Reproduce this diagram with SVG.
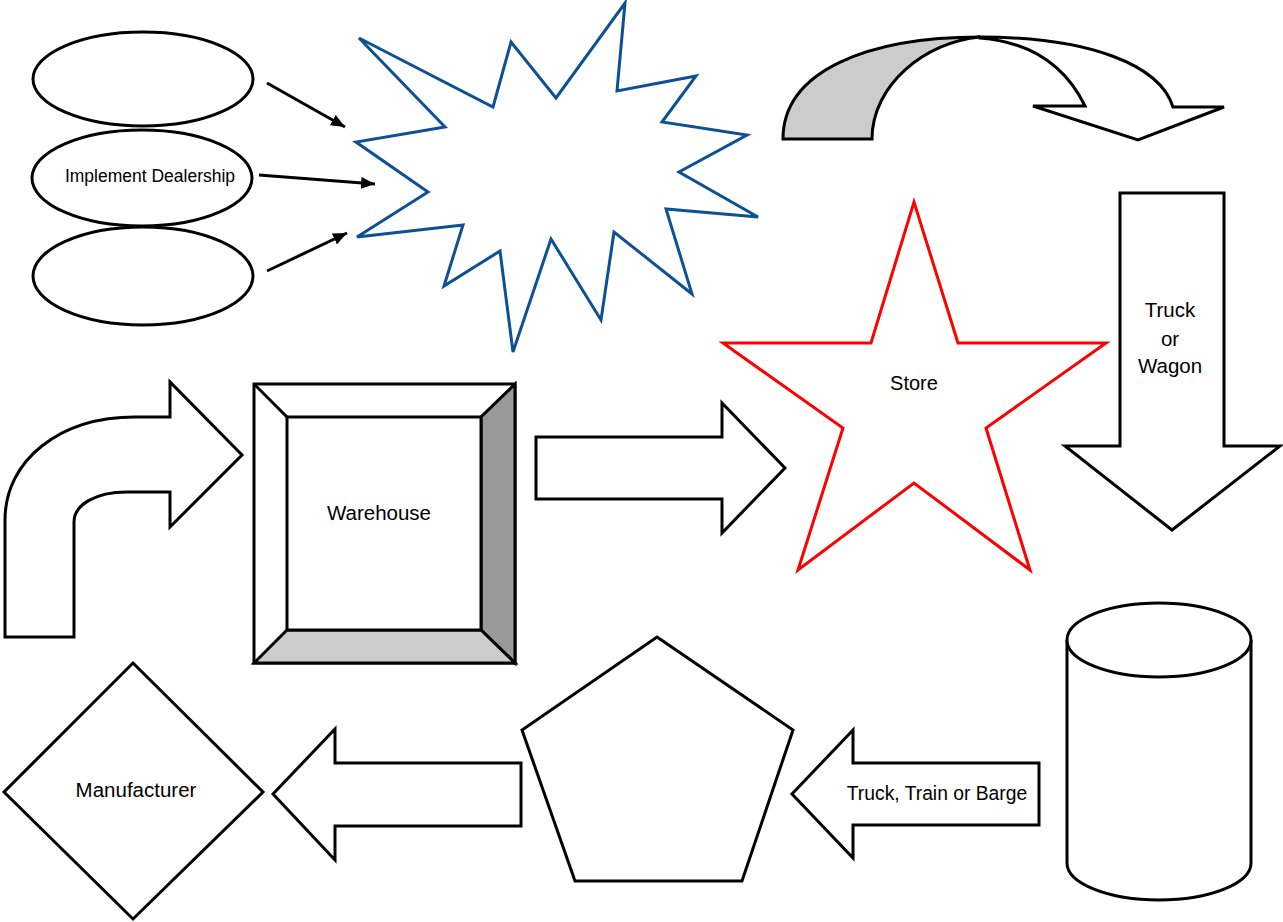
<svg xmlns="http://www.w3.org/2000/svg" width="1283" height="922" viewBox="0 0 1283 922">
<style>
.s{fill:#fff;stroke:#000;stroke-width:3;stroke-linejoin:miter}
.t{font-family:"Liberation Sans",Arial,sans-serif;fill:#000;text-anchor:middle}
.c{stroke:#000;stroke-width:3;fill:none}
</style>
<defs>
<marker id="ah" markerUnits="userSpaceOnUse" markerWidth="14" markerHeight="12" viewBox="0 0 14 12" refX="14" refY="6" orient="auto">
<path d="M0,0 L14,6 L0,12 Z" fill="#000"/>
</marker>
</defs>
<rect width="1283" height="922" fill="#fff"/>
<g id="ellipse1"><ellipse class="s" cx="143" cy="79" rx="110" ry="47"/></g>
<g id="ellipse2"><ellipse class="s" cx="142" cy="178" rx="110" ry="48"/><text class="t" x="150" y="182" font-size="17.5">Implement Dealership</text></g>
<g id="ellipse3"><ellipse class="s" cx="143" cy="276" rx="110" ry="49"/></g>
<g id="starburst"><polygon fill="#fff" stroke="#0d5094" stroke-width="3" points="359,38 493,107 511,42 556,98 625,3 617,91 696,76 662,122 747,135 679,172 758,217 666,209 692,294 614,232 601,320 551,239 513,352 500,251 444,286 463,225 357,237 428,192 356,142 445,127"/></g>
<g id="curved-arrow">
<path class="s" d="M980,37 C1090,37 1160,65 1173,107 L1224,107 L1138,140 L1033,106 L1085,106 C1065,65 1030,42 980,38 Z"/>
<path class="s" style="fill:#ccc" d="M783,139 C783,70 870,37 980,37 C925,42 872,85 872,139 Z"/>
</g>
<g id="bent-arrow"><path class="s" d="M5,637 L74,637 L74,522 C74,505 95,492 127,492 L170,492 L170,527 L242,455 L170,382 L170,417 L135,417 C60,417 5,460 5,520 Z"/></g>
<g id="warehouse">
<rect class="s" x="254" y="384" width="261" height="279"/>
<polygon class="s" style="fill:#999" points="515,384 481,417 481,630 515,663"/>
<polygon class="s" style="fill:#ccc" points="254,663 287,630 481,630 515,663"/>
<line class="c" x1="254" y1="384" x2="287" y2="417"/>
<rect class="s" x="287" y="417" width="194" height="213"/>
<text class="t" x="379" y="520" font-size="20.5">Warehouse</text>
</g>
<g id="right-arrow"><polygon class="s" points="536,437 722,437 722,403 785,468 722,533 722,499 536,499"/></g>
<g id="store"><polygon fill="#fff" stroke="#f00" stroke-width="3" points="914,202 958,343 1106,343 986,428 1030,570 914,483 798,570 843,428 723,343 871,343"/><text class="t" x="914" y="390" font-size="20">Store</text></g>
<g id="truck-wagon"><polygon class="s" points="1120,193 1224,193 1224,446 1280,446 1172,530 1065,446 1120,446"/>
<text class="t" x="1170" y="317" font-size="20.5">Truck</text>
<text class="t" x="1170" y="346" font-size="20.5">or</text>
<text class="t" x="1170" y="373" font-size="20.5">Wagon</text></g>
<g id="cylinder">
<path class="s" d="M1067,640 L1067,863 A92,37 0 0 0 1251,863 L1251,640"/>
<ellipse class="s" cx="1159" cy="640" rx="92" ry="37"/>
</g>
<g id="barge-arrow"><polygon class="s" points="1039,763 853,763 853,730 792,794 853,858 853,825 1039,825"/><text class="t" x="937" y="800" font-size="19.3">Truck, Train or Barge</text></g>
<g id="pentagon"><polygon class="s" points="657,637 793,730 742,881 575,881 522,730"/></g>
<g id="left-arrow"><polygon class="s" points="521,763 335,763 335,729 273,794 335,860 335,826 521,826"/></g>
<g id="manufacturer"><polygon class="s" points="133,663 263,792 133,919 4,792"/><text class="t" x="136" y="797" font-size="20.5">Manufacturer</text></g>
<g id="connectors">
<line class="c" x1="267" y1="83" x2="345" y2="127" marker-end="url(#ah)"/>
<line class="c" x1="259" y1="175" x2="375" y2="184" marker-end="url(#ah)"/>
<line class="c" x1="267" y1="271" x2="347" y2="233" marker-end="url(#ah)"/>
</g>
</svg>
